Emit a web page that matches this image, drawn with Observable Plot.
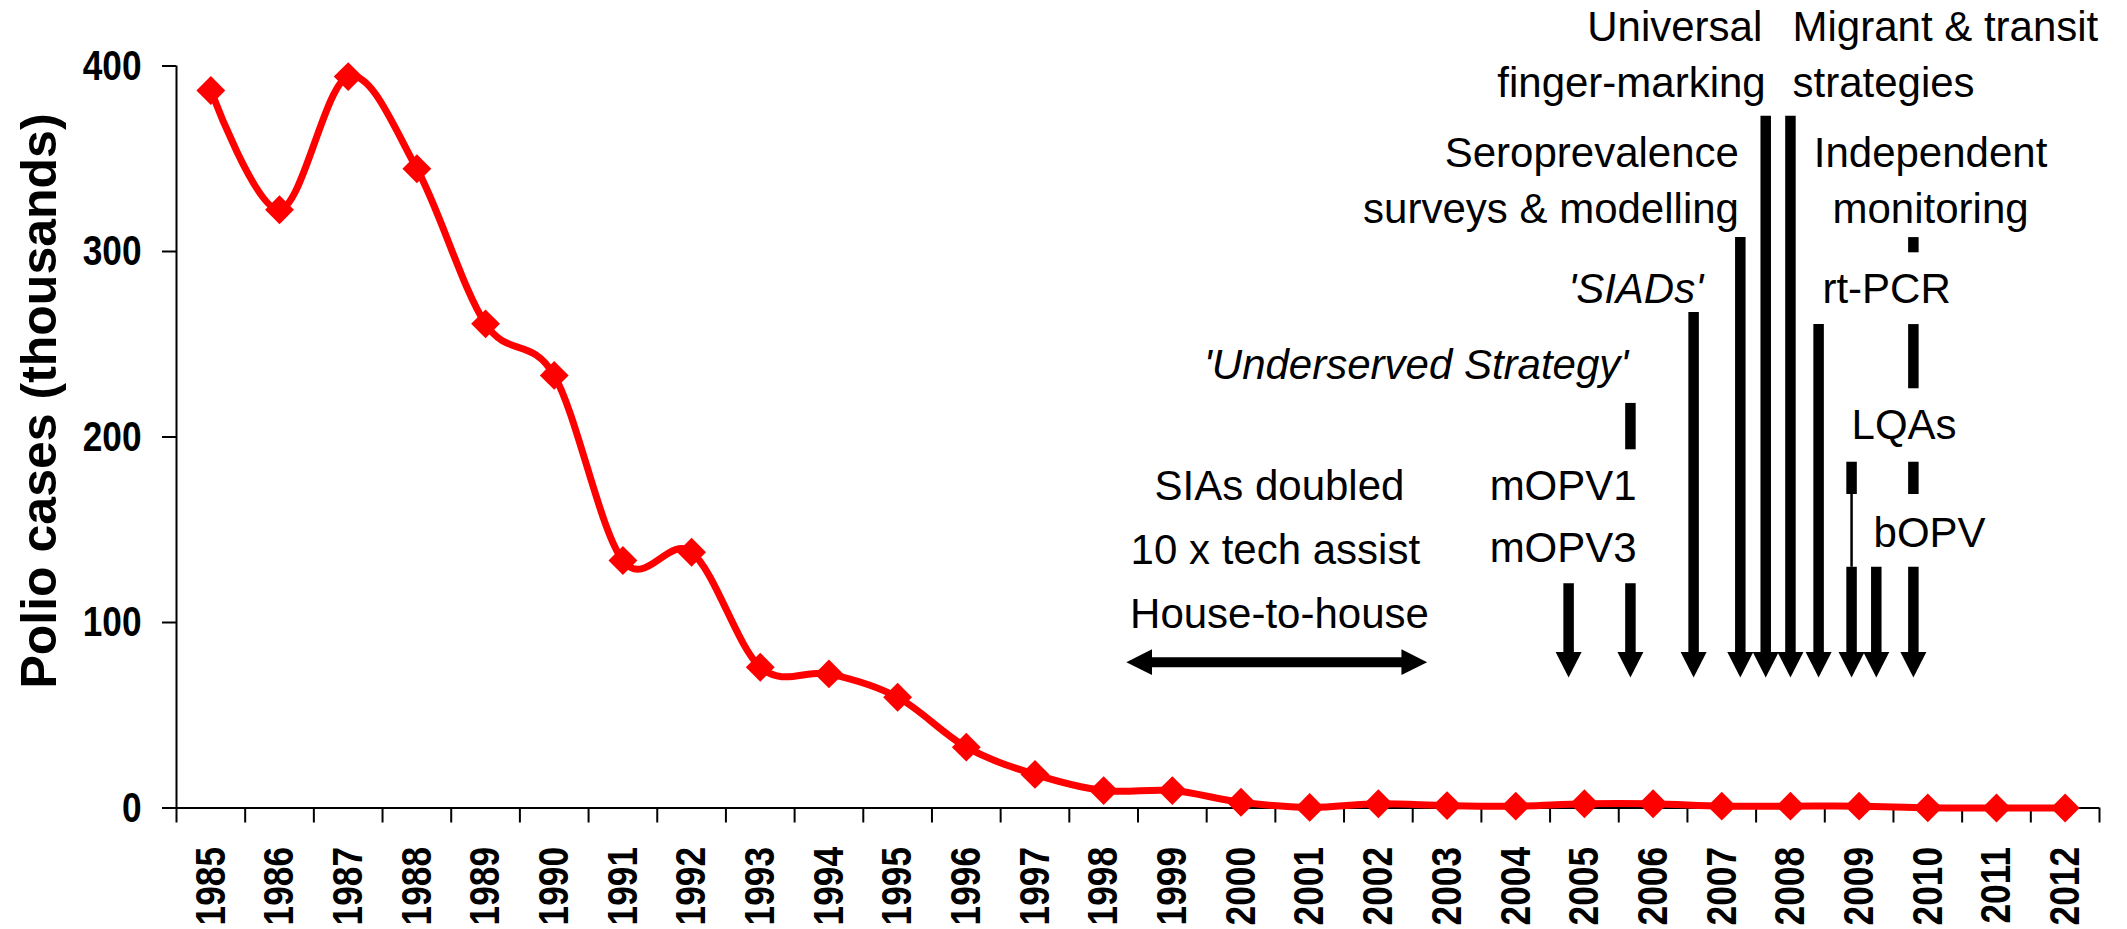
<!DOCTYPE html>
<html>
<head>
<meta charset="utf-8">
<script src="https://cdn.jsdelivr.net/npm/d3@7"></script>
<script src="https://cdn.jsdelivr.net/npm/@observablehq/plot@0.6"></script>
<style>
  html, body { margin: 0; padding: 0; background: #fff; overflow: hidden; }
</style>
</head>
<body>
<div id="chart"></div>
<script>
// ---- data ----
const years = [1985, 1986, 1987, 1988, 1989, 1990, 1991, 1992, 1993, 1994,
               1995, 1996, 1997, 1998, 1999, 2000, 2001, 2002, 2003, 2004,
               2005, 2006, 2007, 2008, 2009, 2010, 2011, 2012];
const cases = [386.8, 322.5, 394.3, 344.6, 261.0, 233.2, 133.4, 137.9, 75.9, 72.3,
               59.7, 32.8, 18.1, 9.4, 9.4, 3.1, 0.3, 2.3, 1.3, 1.0,
               2.3, 2.3, 1.0, 1.0, 1.0, 0.1, 0.0, 0.0];
const yTicks = [0, 100, 200, 300, 400];
const yTitle = "Polio cases (thousands)";

// annotation labels (year, value in thousands)
const notesEnd = [
  {text: "Universal", year: 2007.59, value: 413.7},
  {text: "finger-marking", year: 2007.64, value: 383.2},
  {text: "Seroprevalence", year: 2007.25, value: 345.4},
  {text: "surveys & modelling", year: 2007.25, value: 315.1}
];
const notesItalic = [
  {text: "'SIADs'", year: 2006.73, value: 272.0},
  {text: "'Underserved Strategy'", year: 2005.64, value: 231.5}
];
const notesStart = [
  {text: "Migrant & transit", year: 2008.03, value: 413.7},
  {text: "strategies", year: 2008.03, value: 383.2},
  {text: "LQAs", year: 2008.89, value: 198.7},
  {text: "mOPV1", year: 2003.62, value: 165.8},
  {text: "mOPV3", year: 2003.62, value: 132.4},
  {text: "bOPV", year: 2009.21, value: 140.6}
];
const notesMiddle = [
  {text: "Independent", year: 2010.04, value: 345.4},
  {text: "monitoring", year: 2010.04, value: 315.1},
  {text: "rt-PCR", year: 2009.40, value: 272.0},
  {text: "SIAs doubled", year: 2000.56, value: 165.8},
  {text: "10 x tech assist", year: 2000.50, value: 131.8},
  {text: "House-to-house", year: 2000.56, value: 97.3}
];

// intervention arrows: year and top of shaft (thousands), all ending at arrowTip
const arrowTip = 70.4;
const arrowLeads = [
  {year: 2004.77, top: 120.9},  // mOPV1
  {year: 2005.67, top: 120.9},  // mOPV3 / Underserved
  {year: 2006.59, top: 267.1},  // SIADs
  {year: 2007.27, top: 307.5},  // Seroprevalence
  {year: 2007.64, top: 372.9},  // finger-marking
  {year: 2008.00, top: 372.9},  // migrant & transit
  {year: 2008.41, top: 260.6},  // rt-PCR
  {year: 2008.89, top: 129.8},  // LQAs
  {year: 2009.25, top: 129.8},  // bOPV
  {year: 2009.79, top: 129.8}   // Independent monitoring
];
// shaft pieces interrupted by labels
const arrowPieces = [
  {year: 2005.67, top: 218.1, bottom: 193.1},
  {year: 2008.89, top: 186.4, bottom: 169.0},
  {year: 2009.79, top: 307.5, bottom: 299.3},
  {year: 2009.79, top: 260.6, bottom: 226.0},
  {year: 2009.79, top: 186.4, bottom: 169.0}
];
const arrowThin = [{year: 2008.89, top: 169.0, bottom: 129.8}];
// double-headed span arrow
const span = [{from: 1998.33, to: 2002.71, value: 78.6}];

// ---- chart ----
const series = years.map((year, i) => ({year, cases: cases[i]}));
const edges = [...years.map(y => y - 0.5), years[years.length - 1] + 0.5];
const xDomain = [edges[0], edges[edges.length - 1]];

const headDown = {draw(c) { c.moveTo(-13, -25.5); c.lineTo(13, -25.5); c.lineTo(0, 0); c.closePath(); }};
const headLeft = {draw(c) { c.moveTo(0, 0); c.lineTo(25.7, -12.9); c.lineTo(25.7, 12.9); c.closePath(); }};
const headRight = {draw(c) { c.moveTo(0, 0); c.lineTo(-25.7, -12.9); c.lineTo(-25.7, 12.9); c.closePath(); }};

const tickFont = '"Liberation Sans", Arial, sans-serif';
const noteFont = '"Liberation Sans", Arial, sans-serif';

const chart = Plot.plot({
  width: 2127,
  height: 929,
  marginLeft: 176,
  marginRight: 28,
  marginTop: 65.5,
  marginBottom: 121.5,
  style: {fontFamily: noteFont, color: "#000", background: "#fff", overflow: "visible"},
  x: {domain: xDomain},
  y: {domain: [0, 400]},
  marks: [
    // axes
    Plot.axisY({ticks: yTicks, tickSize: 14, tickPadding: 21, strokeWidth: 2,
                fontSize: 43, fontWeight: "bold", fontFamily: tickFont, label: null}),
    Plot.axisX({ticks: edges, tickSize: 15, strokeWidth: 2, tickFormat: () => "", label: null}),
    Plot.axisX({ticks: years, tickSize: 0, tickPadding: 39, tickRotate: -90,
                tickFormat: d => `${d}`, fontSize: 43, fontWeight: "bold",
                fontFamily: tickFont, label: null}),
    Plot.ruleY([0], {x1: xDomain[0], x2: xDomain[1], strokeWidth: 2}),
    Plot.ruleX([xDomain[0]], {y1: 0, y2: 400, strokeWidth: 2}),
    Plot.text([yTitle], {frameAnchor: "left", rotate: -90, textAnchor: "middle",
                         dx: -137, dy: -36,
                         fontSize: 50, fontWeight: "bold", fill: "#000"}),

    // series
    Plot.line(series, {x: "year", y: "cases", stroke: "#ff0000", strokeWidth: 7,
                       curve: "cardinal", tension: 0}),
    Plot.dot(series, {x: "year", y: "cases", symbol: "diamond2", r: 13,
                      fill: "#ff0000", stroke: "none"}),

    // span arrow
    Plot.ruleY(span, {y: "value", x1: "from", x2: "to", strokeWidth: 10,
                      insetLeft: 24, insetRight: 24}),
    Plot.dot(span, {x: "from", y: "value", symbol: headLeft, fill: "#000", stroke: "none"}),
    Plot.dot(span, {x: "to", y: "value", symbol: headRight, fill: "#000", stroke: "none"}),

    // intervention arrows
    Plot.ruleX(arrowLeads, {x: "year", y1: "top", y2: arrowTip, strokeWidth: 10.5,
                            insetBottom: 24}),
    Plot.ruleX(arrowPieces, {x: "year", y1: "top", y2: "bottom", strokeWidth: 10.5}),
    Plot.ruleX(arrowThin, {x: "year", y1: "top", y2: "bottom", strokeWidth: 2.5}),
    Plot.dot(arrowLeads, {x: "year", y: arrowTip, symbol: headDown, fill: "#000", stroke: "none"}),

    // labels
    Plot.text(notesEnd, {x: "year", y: "value", text: "text", textAnchor: "end",
                         lineAnchor: "bottom", fontSize: 42, fill: "#000"}),
    Plot.text(notesItalic, {x: "year", y: "value", text: "text", textAnchor: "end",
                            lineAnchor: "bottom", fontSize: 42, fontStyle: "italic", fill: "#000"}),
    Plot.text(notesStart, {x: "year", y: "value", text: "text", textAnchor: "start",
                           lineAnchor: "bottom", fontSize: 42, fill: "#000"}),
    Plot.text(notesMiddle, {x: "year", y: "value", text: "text", textAnchor: "middle",
                            lineAnchor: "bottom", fontSize: 42, fill: "#000"})
  ]
});

// narrow the bold tick labels (the reference uses a condensed bold face)
function condense(selection, k) {
  selection.each(function () {
    const t = this.getAttribute("transform");
    if (t) {
      this.setAttribute("transform", `${t} scale(${k},1)`);
    } else {
      const x = parseFloat(this.getAttribute("x")) || 0;
      this.setAttribute("transform", `translate(${x},0) scale(${k},1) translate(${-x},0)`);
    }
  });
}
condense(d3.select(chart).selectAll('g[aria-label="y-axis tick label"] text'), 0.82);
condense(d3.select(chart).selectAll('g[aria-label="x-axis tick label"] text'), 0.82);

document.getElementById("chart").appendChild(chart);
</script>
</body>
</html>
